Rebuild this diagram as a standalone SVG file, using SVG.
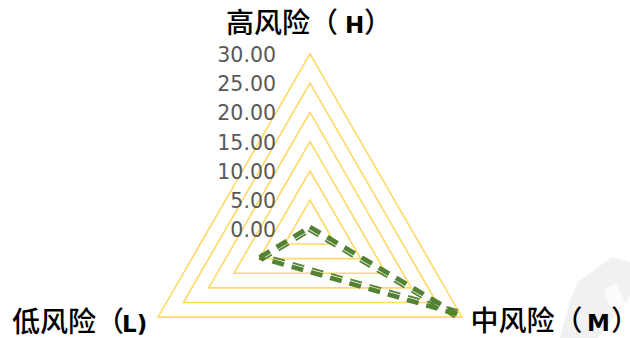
<svg xmlns="http://www.w3.org/2000/svg" width="630" height="338" viewBox="0 0 630 338">
<style>
.grid{fill:none;stroke:#FFD966;stroke-width:1.6;stroke-linejoin:miter}
.tick{font-family:"DejaVu Sans",sans-serif;font-size:20.5px;fill:#595959;text-anchor:end}
.cat{font-family:"Noto Sans CJK SC","Noto Sans",sans-serif;font-size:28px;font-weight:500;fill:#000}
.lat{font-family:"DejaVu Sans",sans-serif;font-weight:bold;font-size:23px}
.thick{stroke:#548235;stroke-width:4.8;stroke-dasharray:12 8;fill:none}
.thin{stroke:#548235;stroke-width:1.8;stroke-dasharray:12 8;fill:none}
</style>
<rect width="630" height="338" fill="#fff"/>
<g id="watermark" fill="#f1f1f1">
<polygon points="560,338 598,338 630,296 630,262 612,257 578,282 570,300"/>
<polygon points="603,290 616,283 626,304 613,311" fill="#fbfbfb"/>
</g>
<g id="gridlines">
<polygon class="grid" points="310,200.15 335.33,244.03 284.67,244.03"/>
<polygon class="grid" points="310,170.9 360.66,258.65 259.34,258.65"/>
<polygon class="grid" points="310,141.65 385.99,273.28 234.01,273.28"/>
<polygon class="grid" points="310,112.4 411.32,287.9 208.68,287.9"/>
<polygon class="grid" points="310,83.15 436.66,302.53 183.34,302.53"/>
<polygon class="grid" points="310,53.9 461.99,317.15 158.01,317.15"/>
</g>
<g id="axis-labels">
<text class="tick" x="276" y="61.8">30.00</text>
<text class="tick" x="276" y="91">25.00</text>
<text class="tick" x="276" y="120.3">20.00</text>
<text class="tick" x="276" y="149.5">15.00</text>
<text class="tick" x="276" y="178.8">10.00</text>
<text class="tick" x="276" y="208">5.00</text>
<text class="tick" x="276" y="237.3">0.00</text>
</g>
<g id="node-H">
<text class="cat" x="226" y="32.5">高风险（<tspan class="lat" x="345">H</tspan><tspan x="364">）</tspan></text>
</g>
<g id="node-M">
<text class="cat" x="470.5" y="331">中风险（<tspan class="lat" x="587">M</tspan><tspan x="611">）</tspan></text>
</g>
<g id="node-L">
<text class="cat" x="12" y="331.5">低风险（<tspan class="lat" x="122">L)</tspan></text>
</g>
<g id="connectors">
<line class="thick" x1="259.5" y1="257.5" x2="310" y2="227"/>
<line class="thick" x1="310" y1="227" x2="457" y2="314"/>
<line class="thick" x1="457" y1="314" x2="259.5" y2="257.5"/>
<line class="thin" x1="261.56" y1="260.93" x2="312.06" y2="230.43"/>
<line class="thin" x1="307.96" y1="230.44" x2="454.96" y2="317.44"/>
<line class="thin" x1="458.11" y1="310.16" x2="260.61" y2="253.66"/>
</g>
</svg>
